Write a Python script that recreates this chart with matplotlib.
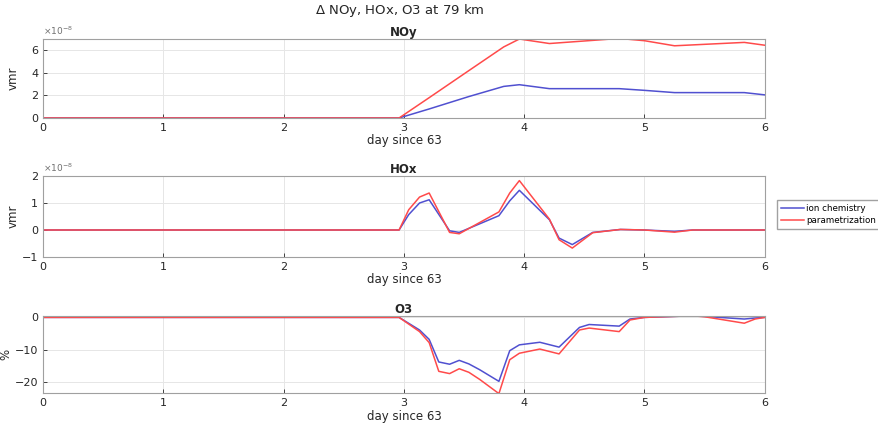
import numpy as np
import matplotlib.pyplot as plt

# NOy (vmr, units of 1e-8)
noy_day = [0, 2.96, 3.21, 3.54, 3.83, 3.96, 4.21, 4.79, 5.0, 5.25, 5.83, 6.0]
noy_ion = [0, 0, 0.8, 1.9, 2.8, 2.95, 2.6, 2.6, 2.45, 2.25, 2.25, 2.05]
noy_par = [0, 0, 1.8, 4.2, 6.3, 7.0, 6.6, 7.05, 6.85, 6.4, 6.7, 6.45]

# HOx (vmr, units of 1e-8)
hox_day = [0, 2.96, 3.04, 3.13, 3.21, 3.38, 3.46, 3.79, 3.88, 3.96, 4.21, 4.29,
           4.4, 4.57, 4.8, 5.0, 5.25, 5.4, 6.0]
hox_ion = [0, 0, 0.57, 1.0, 1.12, -0.03, -0.09, 0.53, 1.08, 1.47, 0.38, -0.3,
           -0.54, -0.09, 0.02, 0.0, -0.05, 0.0, 0.0]
hox_par = [0, 0, 0.75, 1.22, 1.37, -0.09, -0.14, 0.67, 1.37, 1.83, 0.4, -0.36,
           -0.67, -0.1, 0.02, 0.0, -0.08, 0.0, 0.0]

# O3 (%)
o3_day = [0, 2.96, 3.13, 3.21, 3.29, 3.38, 3.46, 3.54, 3.63, 3.71, 3.79, 3.88,
          3.96, 4.13, 4.29, 4.46, 4.54, 4.79, 4.88, 5.0, 5.4, 5.5, 5.83, 5.92, 6.0]
o3_ion = [0, 0, -3.9, -6.8, -13.8, -14.5, -13.3, -14.4, -16.2, -18.0, -19.8, -10.3,
          -8.5, -7.7, -9.2, -3.1, -2.2, -2.7, -0.5, 0, 0.5, 0.3, -0.5, -0.2, 0]
o3_par = [0, 0, -4.4, -7.8, -16.7, -17.4, -15.9, -17.0, -19.2, -21.4, -23.6, -13.1,
          -11.1, -9.8, -11.3, -3.9, -3.3, -4.4, -0.8, 0, 0.5, 0.2, -1.8, -0.5, 0]

blue = '#5050d0'
red = '#ff4a4a'
gray = '#262626'

fig = plt.figure(figsize=(8.79, 4.33), dpi=100)
fig.text(0.455, 0.975, '$\\Delta$ NOy, HOx, O3 at 79 km', ha='center', va='center',
         fontsize=9.5, color=gray)

positions = [[0.049, 0.7275, 0.821, 0.1824],
             [0.049, 0.4065, 0.821, 0.187],
             [0.049, 0.0917, 0.821, 0.179]]

panels = [
    ('NOy', noy_day, noy_ion, noy_par, (0, 7), [0, 2, 4, 6], 'vmr'),
    ('HOx', hox_day, hox_ion, hox_par, (-1, 2), [-1, 0, 1, 2], 'vmr'),
    ('O3', o3_day, o3_ion, o3_par, (-23.5, 0.5), [-20, -10, 0], '%'),
]

for pos, (name, d, ion, par, ylim, yt, ylab) in zip(positions, panels):
    ax = fig.add_axes(pos)
    l1, = ax.plot(d, ion, color=blue, lw=1.1, label='ion chemistry')
    l2, = ax.plot(d, par, color=red, lw=1.1, label='parametrization')
    ax.set_xlim(0, 6)
    ax.set_ylim(*ylim)
    ax.set_yticks(yt)
    ax.set_xticks(range(7))
    ax.grid(True, color='#e6e6e6', lw=0.7)
    ax.set_axisbelow(True)
    ax.tick_params(direction='in', labelsize=8, colors=gray, length=3, width=0.6)
    for s in ax.spines.values():
        s.set_color('#a0a0a0')
        s.set_linewidth(0.8)
    ax.set_title(name, fontsize=8.5, fontweight='bold', pad=2, color=gray)
    ax.set_xlabel('day since 63', fontsize=8.5, labelpad=1, color=gray)
    ax.set_ylabel(ylab, fontsize=8.5, color=gray)
    ax.yaxis.set_label_coords(-0.042 if name == 'O3' else -0.032, 0.5)
    if name != 'O3':
        ax.text(0, 1.02, '$\\times10^{-8}$', transform=ax.transAxes, fontsize=6.5,
                color='#707070', va='bottom')

fig.legend([l1, l2], ['ion chemistry', 'parametrization'], loc='center left',
           bbox_to_anchor=(0.884, 0.505), fontsize=6.3, frameon=True, fancybox=False,
           edgecolor='#8a8a8a', handlelength=2.6, handletextpad=0.2,
           borderpad=0.5, labelspacing=0.3, borderaxespad=0)

plt.savefig('out.png', dpi=100)
